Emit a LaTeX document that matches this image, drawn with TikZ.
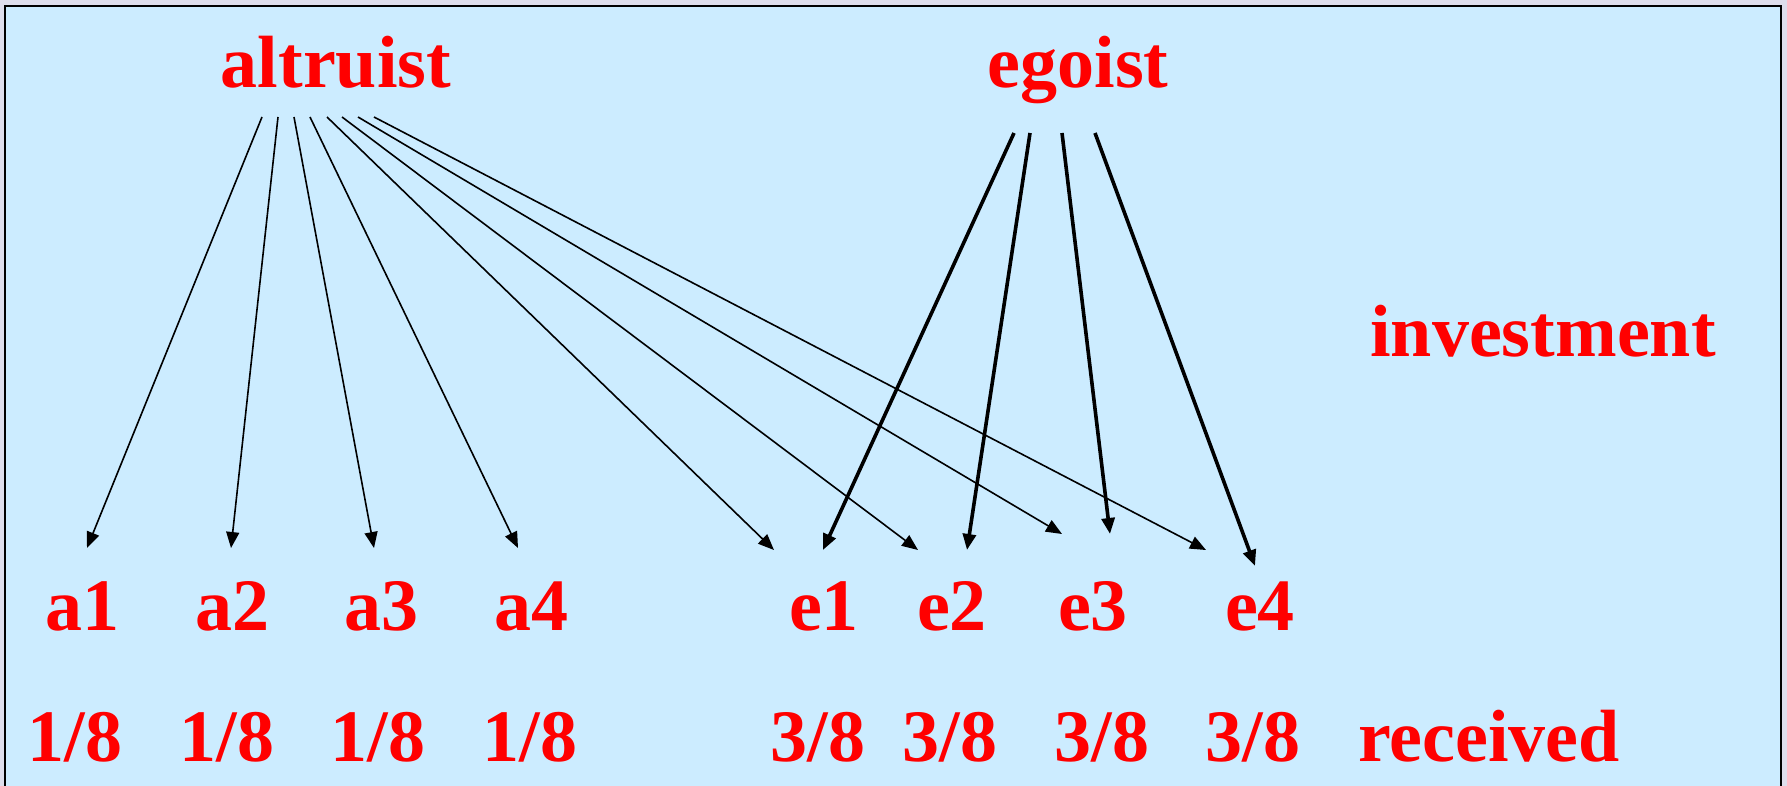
\documentclass[tikz,border=0pt]{standalone}
\usepackage{fontspec}
\setmainfont{Liberation Serif}
\usepackage{xcolor}
\definecolor{cBox}{HTML}{CCECFF}
\definecolor{cFrame}{HTML}{DEDEEC}
\definecolor{cRed}{HTML}{FF0000}
\usetikzlibrary{arrows.meta,calc}
\tikzset{
  node-lbl/.style={text=cRed,font=\fontsize{74}{80}\selectfont\bfseries,
    anchor=base,inner sep=0pt},
  arrow-thin/.style={-{Triangle[length=16pt,width=13pt]},line width=1.6pt,draw=black},
  arrow-thick/.style={-{Triangle[length=16pt,width=13pt]},line width=3.6pt,draw=black},
}

\begin{document}
\begin{tikzpicture}[x=1pt,y=-1pt]
  \useasboundingbox (0,0) rectangle (1787,786);
  \fill[cFrame] (0,0) rectangle (1787,786);
  \draw[fill=cBox,line width=2pt] (5,6) rectangle (1781,800);
  % players
  \node[node-lbl] (altruist) at (336,88) {altruist};
  \node[node-lbl] (egoist) at (1078,88) {egoist};
  \node[node-lbl] (invest) at (1543,356) {investment};
  \foreach \x/\i in {82/1,232/2,381/3,531/4}
    \node[node-lbl] (a\i) at (\x,630) {a\i};
  \foreach \x/\i in {824/1,952/2,1093/3,1260/4}
    \node[node-lbl] (e\i) at (\x,630) {e\i};
  % what each one gets back
  \foreach \x/\i in {75/1,227/2,378/3,530/4}
    \node[node-lbl] (ra\i) at (\x,761) {1/8};
  \foreach \x/\i in {818/1,950/2,1102/3,1253/4}
    \node[node-lbl] (re\i) at (\x,761) {3/8};
  \node[node-lbl] (received) at (1489,761) {received};
  % altruist spreads over everyone
  \foreach \dx/\tgt/\ex/\ey in {-74/a1/5/-82,-58/a2/-1/-82,-42/a3/-7/-82,
      -26/a4/-13/-82,-9/e1/-50/-80,6/e2/-34/-80,22/e3/-31/-96,38/e4/-54/-80}
    \draw[arrow-thin] ($(altruist.base)+(\dx,29)$) -- ($(\tgt.base)+(\ex,\ey)$);
  % egoist keeps to its own group
  \foreach \dx/\tgt/\ex/\ey in {-64/e1/-1/-80,-48/e2/15/-80,-16/e3/17/-96,17/e4/-5/-64}
    \draw[arrow-thick] ($(egoist.base)+(\dx,45)$) -- ($(\tgt.base)+(\ex,\ey)$);
\end{tikzpicture}
\end{document}
